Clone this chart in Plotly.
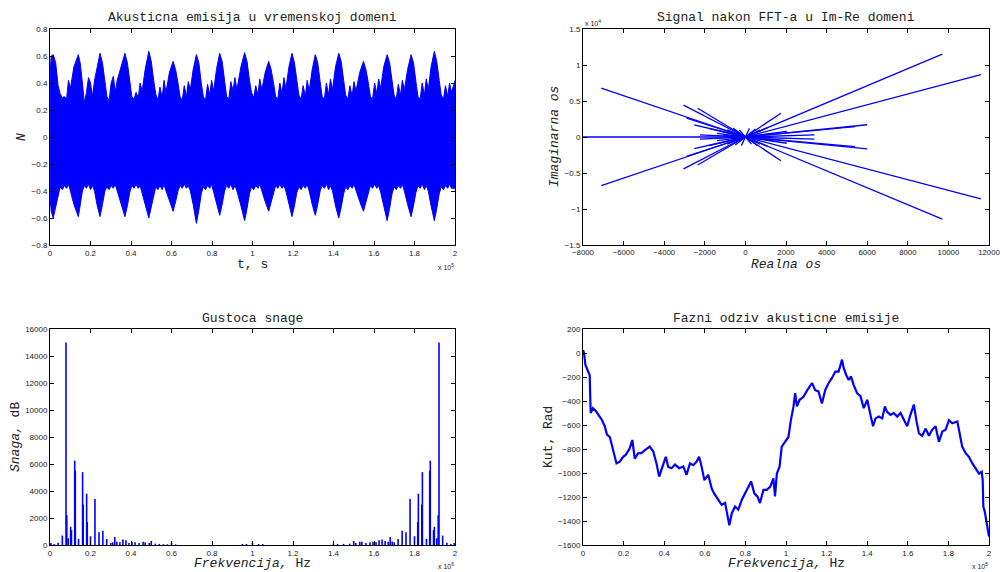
import plotly.graph_objects as go

# ---------------- data ----------------
# Time-domain envelope (t in units of 1e5 s)
t_env = [0.000, 0.006,
         0.016, 0.028, 0.040, 0.050, 0.061, 0.071, 0.082, 0.091, 0.101, 0.118,
         0.140, 0.150, 0.160, 0.170, 0.180, 0.190, 0.200, 0.210, 0.220, 0.232,
         0.247, 0.259, 0.271, 0.281, 0.292, 0.302, 0.313, 0.322, 0.332, 0.350,
         0.370, 0.382, 0.394, 0.404, 0.415, 0.425, 0.436, 0.445, 0.455, 0.470,
         0.488, 0.500, 0.512, 0.522, 0.533, 0.543, 0.554, 0.563, 0.573, 0.590,
         0.608, 0.620, 0.632, 0.642, 0.653, 0.663, 0.674, 0.683, 0.693, 0.707,
         0.723, 0.735, 0.747, 0.757, 0.768, 0.778, 0.789, 0.798, 0.808, 0.822,
         0.838, 0.850, 0.862, 0.872, 0.883, 0.893, 0.904, 0.913, 0.923, 0.943,
         0.961, 0.973, 0.985, 0.995, 1.006, 1.016, 1.027, 1.036, 1.046, 1.063,
         1.080, 1.092, 1.104, 1.114, 1.125, 1.135, 1.146, 1.155, 1.165, 1.180,
         1.195, 1.207, 1.219, 1.229, 1.240, 1.250, 1.261, 1.270, 1.280, 1.295,
         1.310, 1.322, 1.334, 1.344, 1.355, 1.365, 1.376, 1.385, 1.395, 1.410,
         1.426, 1.438, 1.450, 1.460, 1.471, 1.481, 1.492, 1.501, 1.511, 1.530,
         1.548, 1.560, 1.572, 1.582, 1.593, 1.603, 1.614, 1.623, 1.633, 1.648,
         1.665, 1.677, 1.689, 1.699, 1.710, 1.720, 1.731, 1.740, 1.750, 1.766,
         1.783, 1.795, 1.807, 1.817, 1.828, 1.838, 1.849, 1.858, 1.868, 1.882,
         1.898, 1.910, 1.922, 1.932, 1.943, 1.953, 1.964, 1.973, 1.983, 2.000]
env_upper = [0.46, 0.60,
             0.61, 0.55, 0.38, 0.32, 0.29, 0.30, 0.28, 0.42, 0.36, 0.52,
             0.61, 0.54, 0.40, 0.25, 0.33, 0.44, 0.40, 0.30, 0.42, 0.50,
             0.62, 0.55, 0.40, 0.30, 0.27, 0.40, 0.45, 0.33, 0.42, 0.52,
             0.62, 0.55, 0.40, 0.30, 0.28, 0.33, 0.29, 0.40, 0.34, 0.50,
             0.635, 0.56, 0.42, 0.32, 0.27, 0.37, 0.29, 0.42, 0.33, 0.48,
             0.56, 0.50, 0.40, 0.30, 0.27, 0.38, 0.30, 0.41, 0.35, 0.50,
             0.61, 0.55, 0.40, 0.30, 0.27, 0.39, 0.31, 0.42, 0.34, 0.50,
             0.62, 0.56, 0.42, 0.30, 0.28, 0.41, 0.34, 0.44, 0.35, 0.52,
             0.625, 0.56, 0.42, 0.33, 0.29, 0.38, 0.31, 0.43, 0.35, 0.48,
             0.56, 0.50, 0.40, 0.30, 0.28, 0.40, 0.32, 0.44, 0.36, 0.52,
             0.62, 0.55, 0.42, 0.31, 0.28, 0.38, 0.30, 0.42, 0.34, 0.50,
             0.61, 0.55, 0.41, 0.30, 0.28, 0.40, 0.31, 0.43, 0.35, 0.52,
             0.62, 0.56, 0.42, 0.31, 0.28, 0.38, 0.30, 0.41, 0.34, 0.48,
             0.56, 0.50, 0.40, 0.30, 0.28, 0.40, 0.32, 0.43, 0.36, 0.52,
             0.61, 0.55, 0.42, 0.31, 0.28, 0.39, 0.31, 0.42, 0.35, 0.50,
             0.61, 0.55, 0.41, 0.30, 0.28, 0.40, 0.31, 0.43, 0.35, 0.52,
             0.635, 0.56, 0.42, 0.31, 0.28, 0.38, 0.30, 0.40, 0.33, 0.42]
env_lower = [-0.45, -0.55,
             -0.60, -0.52, -0.42, -0.37, -0.39, -0.36, -0.38, -0.35, -0.40, -0.50,
             -0.59, -0.50, -0.40, -0.36, -0.38, -0.35, -0.39, -0.36, -0.40, -0.50,
             -0.59, -0.50, -0.40, -0.37, -0.39, -0.36, -0.38, -0.35, -0.40, -0.50,
             -0.59, -0.51, -0.41, -0.36, -0.38, -0.35, -0.38, -0.36, -0.41, -0.50,
             -0.60, -0.52, -0.42, -0.37, -0.39, -0.36, -0.39, -0.35, -0.40, -0.48,
             -0.55, -0.48, -0.40, -0.36, -0.38, -0.35, -0.38, -0.36, -0.40, -0.50,
             -0.64, -0.54, -0.42, -0.37, -0.39, -0.36, -0.38, -0.35, -0.41, -0.50,
             -0.58, -0.50, -0.40, -0.36, -0.38, -0.35, -0.39, -0.36, -0.40, -0.51,
             -0.62, -0.53, -0.42, -0.37, -0.39, -0.36, -0.38, -0.35, -0.40, -0.48,
             -0.55, -0.48, -0.40, -0.36, -0.38, -0.35, -0.38, -0.36, -0.40, -0.50,
             -0.59, -0.51, -0.41, -0.37, -0.39, -0.36, -0.38, -0.35, -0.40, -0.50,
             -0.58, -0.50, -0.40, -0.36, -0.38, -0.35, -0.39, -0.36, -0.40, -0.51,
             -0.60, -0.52, -0.42, -0.37, -0.39, -0.36, -0.38, -0.35, -0.40, -0.48,
             -0.55, -0.48, -0.40, -0.36, -0.38, -0.35, -0.38, -0.36, -0.41, -0.51,
             -0.62, -0.53, -0.42, -0.37, -0.39, -0.36, -0.38, -0.35, -0.40, -0.50,
             -0.59, -0.51, -0.41, -0.36, -0.38, -0.35, -0.39, -0.36, -0.40, -0.51,
             -0.62, -0.53, -0.42, -0.37, -0.39, -0.36, -0.38, -0.35, -0.38, -0.38]

# FFT end points in the complex plane (real, imaginary)
fft_re = [-8000, -7100, -7100, 9700, 9700, 11600, 11600, 6000, 6000, 5400, 5400,
          3400, 3400, 1750, 1750, -3050, -3050, -2350, -2350, -2520, -2520,
          -2900, -2900, -2240, -2240, -1400, -1400, 1380, 1380, -900, -900,
          720, 720, 2040, 2040, -1800, -1800, 1100, 1100, -600, 600, -300, 300,
          -1100, 900, 500, -500, 200, -200]
fft_im = [0, 6800, -6750, 11500, -11400, 8650, -8600, 1700, -1650, 1450, -1350,
          300, -300, 3300, -3300, 4420, -4430, 4000, -3880, 1700, -1600,
          2620, -2700, 300, -300, 500, -500, 500, -500, 1000, -1000,
          1000, -1000, 770, -870, 1200, -1200, 1300, -1300, 1200, -1200, 1000, -1000,
          200, -300, 1100, -1100, 1200, -1200]

# Power density spikes (frequency in units of 1e6 Hz, power)
psd_f = [0.004, 0.02, 0.04, 0.061, 0.079, 0.083, 0.090, 0.102, 0.106, 0.122, 0.125,
         0.141, 0.161, 0.164, 0.181, 0.184, 0.200, 0.222, 0.242, 0.261, 0.280,
         0.300, 0.310, 0.320, 0.330, 0.345, 0.360, 0.375, 0.390, 0.405, 0.420,
         0.440, 0.460, 0.470, 0.490, 0.500, 0.520, 0.540, 0.560, 0.580, 0.600,
         0.620, 0.950, 0.970, 1.000, 1.030, 1.050, 1.400, 1.420, 1.450, 1.480,
         1.500, 1.510, 1.530, 1.540, 1.560, 1.580, 1.595, 1.610, 1.625, 1.640,
         1.655, 1.670, 1.680, 1.690, 1.700, 1.719, 1.739, 1.758, 1.778, 1.800,
         1.816, 1.819, 1.836, 1.839, 1.859, 1.875, 1.878, 1.894, 1.898, 1.910,
         1.917, 1.921, 1.939, 1.960, 1.980, 1.996]
psd_p = [150, 80, 160, 700, 15000, 2200, 500, 1350, 1100, 6250, 5500,
         450, 5400, 3000, 3800, 1700, 650, 3400, 950, 1050, 450,
         150, 200, 600, 250, 200, 400, 350, 150, 250, 200,
         150, 250, 200, 150, 300, 100, 80, 60, 50, 150,
         50, 80, 80, 150, 80, 70, 100, 80, 80, 100,
         300, 150, 250, 250, 150, 200, 250, 200, 350, 400,
         300, 250, 600, 250, 200, 450, 1050, 950, 3400, 650,
         1700, 3800, 3000, 5400, 450, 5500, 6250, 1100, 1350, 500,
         2200, 15000, 700, 160, 80, 150]

# Phase response (frequency in units of 1e5 Hz, angle in rad)
ph_f = [0.000, 0.005, 0.012, 0.025, 0.033, 0.036, 0.038, 0.049, 0.066, 0.082,
        0.094, 0.107, 0.118, 0.132, 0.145, 0.153, 0.165, 0.181, 0.198, 0.210,
        0.230, 0.243, 0.255, 0.272, 0.288, 0.305, 0.329, 0.346, 0.362, 0.375,
        0.392, 0.408, 0.420, 0.436, 0.453, 0.474, 0.494, 0.510, 0.527, 0.543,
        0.560, 0.572, 0.584, 0.598, 0.617, 0.634, 0.646, 0.667, 0.683, 0.700,
        0.711, 0.721, 0.733, 0.749, 0.765, 0.782, 0.798, 0.815, 0.828, 0.844,
        0.859, 0.872, 0.889, 0.905, 0.922, 0.938, 0.946, 0.955, 0.968, 0.979,
        0.996, 1.012, 1.024, 1.037, 1.045, 1.054, 1.067, 1.086, 1.105, 1.128,
        1.144, 1.160, 1.177, 1.193, 1.210, 1.226, 1.243, 1.259, 1.276, 1.284,
        1.297, 1.309, 1.320, 1.333, 1.350, 1.367, 1.383, 1.400, 1.416, 1.429,
        1.441, 1.457, 1.474, 1.487, 1.498, 1.515, 1.531, 1.548, 1.564, 1.580,
        1.597, 1.613, 1.630, 1.643, 1.655, 1.671, 1.688, 1.704, 1.720, 1.737,
        1.753, 1.770, 1.786, 1.803, 1.819, 1.844, 1.857, 1.868, 1.885, 1.901,
        1.918, 1.934, 1.951, 1.964, 1.969, 1.972, 1.979, 1.988, 1.997, 2.000]
ph_a = [25, 0, -100, -150, -185, -390, -500, -460, -490, -530,
        -560, -610, -680, -700, -780, -835, -920, -905, -865, -850,
        -795, -725, -880, -835, -835, -810, -780, -820, -920, -1030,
        -950, -865, -950, -960, -930, -960, -945, -1015, -920, -935,
        -905, -865, -945, -1060, -1015, -1130, -1170, -1225, -1265, -1250,
        -1335, -1435, -1335, -1280, -1305, -1225, -1170, -1115, -1070, -1170,
        -1195, -1250, -1140, -1140, -1115, -1045, -1195, -1005, -950, -780,
        -740, -700, -560, -445, -335, -445, -390, -365, -310, -250,
        -310, -320, -420, -310, -250, -210, -155, -155, -55, -125,
        -185, -225, -195, -265, -335, -360, -460, -390, -515, -610,
        -545, -530, -545, -445, -490, -515, -500, -530, -500, -560,
        -610, -515, -430, -570, -670, -690, -630, -690, -640, -610,
        -740, -655, -640, -560, -585, -570, -670, -780, -835, -865,
        -920, -960, -1005, -990, -1060, -1280, -1320, -1410, -1505, -1530]

# tick labels
imre_y_ticks = [-15000, -10000, -5000, 0, 5000, 10000, 15000]
imre_y_text = ['\u22121.5', '\u22121', '\u22120.5', '0', '0.5', '1', '1.5']

# ---------------- figure ----------------
W, H = 1000, 572
BLUE = '#0000ff'
MONO = 'Liberation Mono, Courier New, monospace'
SANS = 'Liberation Sans, Arial, sans-serif'

def PX(v):
    return v / W

def PY(v):
    return 1 - v / H

fig = go.Figure()

# Time domain: filled envelope
fig.add_trace(go.Scatter(x=t_env, y=env_lower, mode='lines',
                         line=dict(color=BLUE, width=1), xaxis='x', yaxis='y',
                         showlegend=False, hoverinfo='skip'))
fig.add_trace(go.Scatter(x=t_env, y=env_upper, mode='lines', fill='tonexty',
                         fillcolor=BLUE, line=dict(color=BLUE, width=1),
                         xaxis='x', yaxis='y', showlegend=False))

# Im-Re: segments from the origin
sx, sy = [], []
for r, i in zip(fft_re, fft_im):
    sx += [0, r, None]
    sy += [0, i, None]
fig.add_trace(go.Scatter(x=sx, y=sy, mode='lines', line=dict(color=BLUE, width=1.3),
                         xaxis='x2', yaxis='y2', showlegend=False))

# PSD spikes
px, py = [], []
for f, p in zip(psd_f, psd_p):
    px += [f, f, None]
    py += [0, p, None]
fig.add_trace(go.Scatter(x=px, y=py, mode='lines', line=dict(color=BLUE, width=1.6),
                         xaxis='x3', yaxis='y3', showlegend=False))

# Phase
fig.add_trace(go.Scatter(x=ph_f, y=ph_a, mode='lines', line=dict(color=BLUE, width=2.2),
                         xaxis='x4', yaxis='y4', showlegend=False))

def ax(domain, rng, dtick=None, tickvals=None, ticktext=None, fmt=None, anchor=None, fs=8):
    d = dict(domain=domain, range=rng, showline=True, linecolor='black', linewidth=1,
             mirror='ticks', ticks='inside', ticklen=4, tickcolor='black',
             showgrid=False, zeroline=False, anchor=anchor, automargin=False,
             ticklabeloverflow='allow',
             tickfont=dict(family=SANS, size=fs, color='#222'))
    if dtick is not None:
        d['dtick'] = dtick
        d['tick0'] = rng[0]
    if tickvals is not None:
        d['tickmode'] = 'array'
        d['tickvals'] = tickvals
        d['ticktext'] = ticktext
    if fmt:
        d['tickformat'] = fmt
    return d

xl = [PX(50), PX(455)]
xr = [PX(583), PX(989)]
yt = [PY(245), PY(29)]
yb = [PY(545), PY(329)]

fig.update_layout(
    width=W, height=H, margin=dict(l=0, r=0, t=0, b=0, autoexpand=False),
    paper_bgcolor='white', plot_bgcolor='white',
    xaxis=ax(xl, [0, 2], dtick=0.2, anchor='y'),
    yaxis=ax(yt, [-0.8, 0.8], dtick=0.2, anchor='x'),
    xaxis2=ax(xr, [-8000, 12000], dtick=2000, fmt='d', anchor='y2', fs=7.8),
    yaxis2=ax(yt, [-15000, 15000], tickvals=imre_y_ticks, ticktext=imre_y_text, anchor='x2'),
    xaxis3=ax(xl, [0, 2], dtick=0.2, anchor='y3'),
    yaxis3=ax(yb, [0, 16000], dtick=2000, fmt='d', anchor='x3'),
    xaxis4=ax(xr, [0, 2], dtick=0.2, anchor='y4'),
    yaxis4=ax(yb, [-1600, 200], dtick=200, fmt='d', anchor='x4'),
)

def ann(text, xpx, ypx, size=13, family=MONO, angle=0, xanchor='center', color='#222'):
    fig.add_annotation(text=text, x=PX(xpx), y=PY(ypx), xref='paper', yref='paper',
                       showarrow=False, textangle=angle, xanchor=xanchor, yanchor='middle',
                       font=dict(family=family, size=size, color=color))

# titles
ann('Akusticna emisija u vremenskoj domeni', 252.5, 18)
ann('Signal nakon FFT-a u Im-Re domeni', 786, 18)
ann('Gustoca snage', 252.5, 318)
ann('Fazni odziv akusticne emisije', 786, 318)
# x labels
ann('t, s', 252.5, 264)
ann('<i>Realna os</i>', 786, 264)
ann('<i>Frekvencija,</i> Hz', 252.5, 563)
ann('<i>Frekvencija,</i> Hz', 786, 563)
# y labels
ann('<i>N</i>', 22, 137, angle=-90)
ann('<i>Imaginarna os</i>', 555, 137, angle=-90)
ann('<i>Snaga,</i> dB', 15, 437, angle=-90)
ann('Kut, Rad', 548, 437, angle=-90)
# exponent labels
ann('x 10<sup>5</sup>', 456, 267, size=7, family=SANS, xanchor='right')
ann('x 10<sup>4</sup>', 583, 23, size=7, family=SANS, xanchor='left')
ann('x 10<sup>6</sup>', 456, 566, size=7, family=SANS, xanchor='right')
ann('x 10<sup>5</sup>', 990, 566, size=7, family=SANS, xanchor='right')

fig.write_html('out.html', config={'displayModeBar': False},
               post_script="document.body.style.margin='0';document.body.style.overflow='hidden';")
